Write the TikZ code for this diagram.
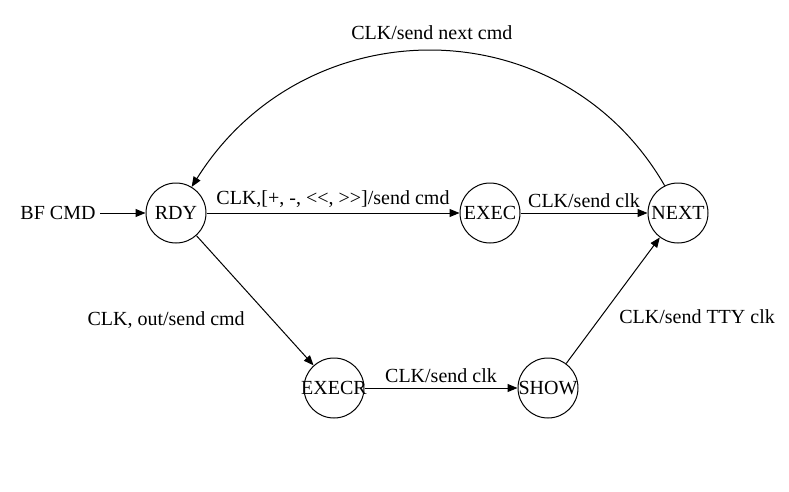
\documentclass[tikz,border=0pt]{standalone}
\usepackage{fontspec}
\setmainfont{Liberation Serif}[Ligatures=TeXOff]
\usetikzlibrary{arrows.meta}
\tikzset{every picture/.style={line width=0.75pt}}
\tikzset{
  state/.style={draw,circle,inner sep=0pt,minimum size=45pt},
  trans/.style={-{Triangle[length=7.5pt,width=6pt]}},
  every node/.style={font=\fontsize{15}{18}\selectfont}
}
\newcommand{\stname}[1]{\makebox[0pt]{#1}}

\begin{document}
\begin{tikzpicture}[x=0.75pt,y=0.75pt,yscale=-1,xscale=1]
\useasboundingbox (0,0) rectangle (789,492);

%States
\node[state] (rdy) at (176,213) {\stname{RDY}};
\node[state] (exec) at (490,213) {\stname{EXEC}};
\node[state] (next) at (678,213) {\stname{NEXT}};
\node[state] (execr) at (334,388) {\stname{EXECR}};
\node[state] (show) at (548,388) {\stname{SHOW}};
\node (bf) at (58,213) {BF CMD};

%Transitions
\draw[trans] (bf) -- (rdy);
\draw[trans] (rdy) -- (exec) node[midway,above] {CLK,[+, -, <<, >>]/send cmd};
\draw[trans] (exec) -- (next) node[midway,above] {CLK/send clk};
\draw[trans] (rdy) -- (execr) node[midway,anchor=north east,xshift=-4pt,yshift=-5pt] {CLK, out/send cmd};
\draw[trans] (execr) -- (show) node[midway,above] {CLK/send clk};
\draw[trans] (show) -- (next) node[midway,anchor=north west,xshift=1pt,yshift=-3pt] {CLK/send TTY clk};
\draw[trans] (next.116) .. controls (561,6) and (305,6) .. (rdy.59) node[pos=0.5,above=5pt] {CLK/send next cmd};
\end{tikzpicture}
\end{document}
